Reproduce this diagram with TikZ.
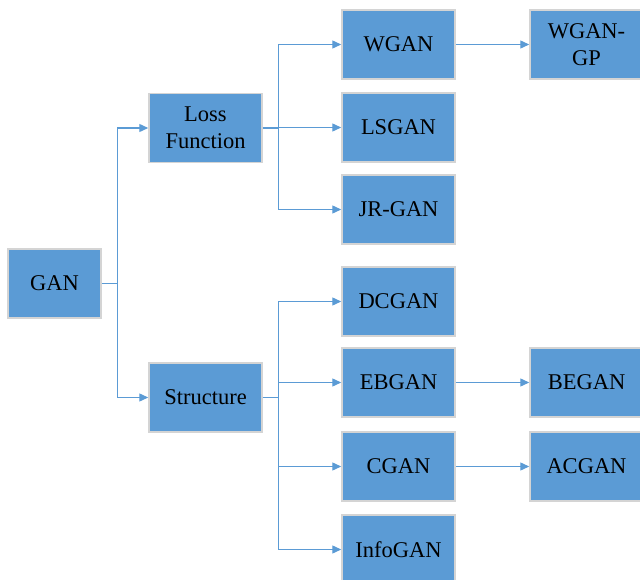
\documentclass[tikz,border=0pt]{standalone}
\usepackage{fontspec}
\setmainfont{Liberation Serif}
\usetikzlibrary{arrows.meta,positioning}
\definecolor{ganBlue}{RGB}{91,155,213}
\definecolor{ganEdge}{RGB}{212,212,212}
\tikzset{
  ganbox/.style={draw=ganEdge,line width=1.5pt,fill=ganBlue,minimum width=113pt,minimum height=69pt,
    inner sep=2pt,align=center,font=\fontsize{22.5}{27}\selectfont},
  ganlink/.style={draw=ganBlue,line width=1.4pt,-{Triangle[length=9pt,width=8pt]}}
}
\newcommand{\branchto}[2]{\draw[ganlink] (#1.east) -- ++(16,0) |- (#2.west);}

\begin{document}
\begin{tikzpicture}[x=1pt,y=-1pt]
		\useasboundingbox (0,0) rectangle (640,580);
		\clip (0,0) rectangle (640,580);
		% root and first level
		\node[ganbox,minimum width=93pt] (gan) at (54.5,283.5) {GAN};
		\node[ganbox] (loss) at (205.5,128) {Loss\\Function};
		\node[ganbox] (struct) at (205.5,397.5) {Structure};
		% loss function variants
		\node[ganbox] (wgan) at (398.5,44.5) {WGAN};
		\node[ganbox] (lsgan) at (398.5,127.5) {LSGAN};
		\node[ganbox] (jrgan) at (398.5,209.5) {JR-GAN};
		\node[ganbox] (wgangp) at (586.5,44.5) {WGAN-\\GP};
		% structure variants
		\node[ganbox] (dcgan) at (398.5,301.5) {DCGAN};
		\node[ganbox] (ebgan) at (398.5,382.5) {EBGAN};
		\node[ganbox] (cgan) at (398.5,466.5) {CGAN};
		\node[ganbox] (infogan) at (398.5,549.5) {InfoGAN};
		\node[ganbox] (began) at (586.5,382.5) {BEGAN};
		\node[ganbox] (acgan) at (586.5,466.5) {ACGAN};
		% connectors
		\branchto{gan}{loss}\branchto{gan}{struct}
		\branchto{loss}{wgan}\branchto{loss}{lsgan}\branchto{loss}{jrgan}
		\branchto{struct}{dcgan}\branchto{struct}{ebgan}\branchto{struct}{cgan}\branchto{struct}{infogan}
		\draw[ganlink] (wgan) -- (wgangp);
		\draw[ganlink] (ebgan) -- (began);
		\draw[ganlink] (cgan) -- (acgan);
\end{tikzpicture}
\end{document}
